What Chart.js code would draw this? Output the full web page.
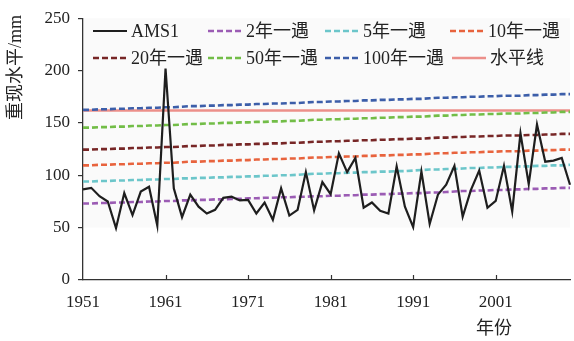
<!DOCTYPE html>
<html>
<head>
<meta charset="utf-8">
<script src="https://cdn.jsdelivr.net/npm/chart.js@4.4.0/dist/chart.umd.min.js"></script>
<style>
  html, body { margin: 0; padding: 0; background: #fff; }
  #wrap { width: 574px; height: 341px; position: relative; }
</style>
</head>
<body>
<div id="wrap"><canvas id="chart"></canvas></div>
<script>
const years = [
  1951, 1952, 1953, 1954, 1955, 1956, 1957, 1958, 1959, 1960,
  1961, 1962, 1963, 1964, 1965, 1966, 1967, 1968, 1969, 1970,
  1971, 1972, 1973, 1974, 1975, 1976, 1977, 1978, 1979, 1980,
  1981, 1982, 1983, 1984, 1985, 1986, 1987, 1988, 1989, 1990,
  1991, 1992, 1993, 1994, 1995, 1996, 1997, 1998, 1999, 2000,
  2001, 2002, 2003, 2004, 2005, 2006, 2007, 2008, 2009, 2010
];

const ams1 = [
  86.5, 88, 80, 75, 49.5, 83, 62, 84.5, 89, 52,
  202, 87.5, 60, 81.5, 70, 63.5, 67, 78.5, 79.5, 76,
  76.5, 63.5, 74, 57.5, 87.5, 61.5, 67, 103, 66.5, 93.5,
  82, 121, 103, 116.5, 69, 74, 66, 63.5, 108.5, 70,
  50.5, 103.5, 53.5, 81.5, 91, 109, 60.5, 86, 104.5, 69,
  75.5, 109, 65.5, 140, 91.5, 148.5, 113, 114, 116.5, 91
];

const rp2 = [
  73, 73, 73.5, 73.5, 74, 74, 74.5, 74.5, 75, 75,
  75.5, 75.5, 76, 76, 76.5, 76.5, 77, 77, 77.5, 77.5,
  78, 78, 78.5, 78.5, 79, 79, 79.5, 79.5, 80, 80,
  80.5, 80.5, 81, 81, 81.5, 81.5, 82, 82, 82.5, 82.5,
  83, 83, 83.5, 83.5, 84, 84.5, 85, 85, 85.5, 85.5,
  86, 86, 86.5, 86.5, 87, 87, 87.5, 87.5, 88, 88
];

const rp5 = [
  94, 94, 94.5, 94.5, 95, 95, 95.5, 95.5, 96, 96,
  96.5, 96.5, 97, 97, 97.5, 97.5, 98, 98, 98.5, 98.5,
  99, 99, 99.5, 99.5, 100, 100, 100.5, 101, 101.5, 101.5,
  102, 102, 102.5, 102.5, 103, 103, 103.5, 103.5, 104, 104,
  104.5, 105, 105.5, 105.5, 106, 106, 106.5, 107, 107, 107.5,
  107.5, 108, 108, 108.5, 108.5, 109, 109, 109.5, 109.5, 110
];

const rp10 = [
  109.5, 109.5, 110, 110, 110.5, 110.5, 111, 111, 111.5, 111.5,
  112, 112, 112.5, 113, 113, 113.5, 113.5, 114, 114, 114.5,
  114.5, 115, 115, 115.5, 115.5, 116, 116, 116.5, 117, 117,
  117.5, 117.5, 118, 118, 118.5, 118.5, 119, 119, 119.5, 119.5,
  120, 120, 120.5, 121, 121, 121.5, 121.5, 122, 122, 122.5,
  122.5, 123, 123, 123, 123.5, 123.5, 124, 124, 124.5, 124.5
];

const rp20 = [
  124.5, 124.5, 125, 125, 125.5, 125.5, 126, 126, 126.5, 126.5,
  127, 127, 127.5, 128, 128, 128.5, 128.5, 129, 129, 129.5,
  129.5, 130, 130, 130.5, 130.5, 131, 131, 131.5, 132, 132,
  132.5, 132.5, 133, 133, 133.5, 133.5, 134, 134, 134.5, 134.5,
  135, 135, 135.5, 136, 136, 136.5, 136.5, 137, 137, 137.5,
  137.5, 138, 138, 138, 138.5, 138.5, 139, 139, 139.5, 139.5
];

const rp50 = [
  145.5, 145.5, 146, 146, 146.5, 146.5, 147, 147, 147.5, 147.5,
  148, 148, 148.5, 149, 149, 149.5, 149.5, 150, 150, 150.5,
  150.5, 151, 151, 151.5, 151.5, 152, 152, 152.5, 153, 153,
  153.5, 153.5, 154, 154, 154.5, 154.5, 155, 155, 155.5, 155.5,
  156, 156, 156.5, 157, 157, 157.5, 157.5, 158, 158, 158.5,
  158.5, 159, 159, 159, 159.5, 159.5, 160, 160, 160.5, 160.5
];

const rp100 = [
  162.5, 162.5, 163, 163, 163.5, 163.5, 164, 164, 164.5, 164.5,
  165, 165, 165.5, 166, 166, 166.5, 166.5, 167, 167, 167.5,
  167.5, 168, 168, 168.5, 168.5, 169, 169, 169.5, 170, 170,
  170.5, 170.5, 171, 171, 171.5, 171.5, 172, 172, 172.5, 172.5,
  173, 173, 173.5, 174, 174, 174.5, 174.5, 175, 175, 175.5,
  175.5, 176, 176, 176, 176.5, 176.5, 177, 177, 177.5, 177.5
];

const levelValue = 161.8;
const levelLine = years.map(() => levelValue);

const yTicks = [0, 50, 100, 150, 200, 250];
const yTitle = "重现水平/mm";
const xTitle = "年份";

const FONT = "'Liberation Serif', 'Noto Sans CJK SC', serif";
const DASH = [6, 3];

function dashed(label, data, color) {
  return {
    label: label,
    data: data,
    borderColor: color,
    backgroundColor: color,
    borderWidth: 2.6,
    borderDash: DASH,
    pointRadius: 0,
    tension: 0,
  };
}

const datasets = [
  {
    label: "AMS1",
    data: ams1,
    borderColor: "#1e1e1e",
    backgroundColor: "#1e1e1e",
    borderWidth: 2.2,
    pointRadius: 0,
    tension: 0,
  },
  dashed("2年一遇", rp2, "#9b5cb4"),
  dashed("5年一遇", rp5, "#6cc6ca"),
  dashed("10年一遇", rp10, "#e8633d"),
  dashed("20年一遇", rp20, "#772626"),
  dashed("50年一遇", rp50, "#72bd47"),
  dashed("100年一遇", rp100, "#3c5ea9"),
  {
    label: "水平线",
    data: levelLine,
    borderColor: "#ec8f8a",
    backgroundColor: "#ec8f8a",
    borderWidth: 2.5,
    pointRadius: 0,
    tension: 0,
  },
];

// legend grid as in the figure: two rows of four
const legendSlots = [
  [93, 31], [208, 31], [325, 31], [450, 31],
  [93, 58], [208, 58], [325, 58], [452, 58],
];

const decor = {
  id: "decor",
  beforeDraw(chart) {
    const { ctx, chartArea, scales } = chart;
    const top = scales.y.getPixelForValue(250);
    const bottom = scales.y.getPixelForValue(50);
    ctx.save();
    ctx.fillStyle = "#fafafa";
    ctx.fillRect(chartArea.left + 1, top, chartArea.right - chartArea.left - 1, bottom - top);
    ctx.restore();
  },
  afterDraw(chart) {
    const { ctx, chartArea, scales } = chart;
    ctx.save();

    // inward ticks on the year axis
    ctx.strokeStyle = "#333";
    ctx.lineWidth = 1.2;
    years.forEach((yr, i) => {
      if (i % 10 !== 0 || i === 0) return;
      const x = Math.round(scales.x.getPixelForValue(i)) + 0.5;
      ctx.beginPath();
      ctx.moveTo(x, chartArea.bottom);
      ctx.lineTo(x, chartArea.bottom - 5);
      ctx.stroke();
    });

    // axis titles
    ctx.fillStyle = "#222";
    ctx.font = "18px " + FONT;
    ctx.textBaseline = "middle";
    ctx.save();
    ctx.translate(16, 15);
    ctx.rotate(-Math.PI / 2);
    ctx.textAlign = "right";
    ctx.fillText(yTitle, 0, 0);
    ctx.restore();
    ctx.textAlign = "center";
    ctx.fillText(xTitle, 494, 329);

    // legend
    ctx.textAlign = "left";
    chart.data.datasets.forEach((ds, i) => {
      const [x, y] = legendSlots[i];
      ctx.strokeStyle = ds.borderColor;
      ctx.lineWidth = ds.borderWidth;
      ctx.setLineDash(ds.borderDash || []);
      ctx.beginPath();
      ctx.moveTo(x, y);
      ctx.lineTo(x + 34, y);
      ctx.stroke();
      ctx.setLineDash([]);
      ctx.fillStyle = "#222";
      ctx.fillText(ds.label, x + 38, y + 1);
    });
    ctx.restore();
  },
};

new Chart(document.getElementById("chart"), {
  type: "line",
  data: { labels: years, datasets: datasets },
  plugins: [decor],
  options: {
    responsive: true,
    maintainAspectRatio: false,
    animation: false,
    layout: { padding: { left: 0, right: 3, top: 17, bottom: 0 } },
    plugins: {
      legend: { display: false },
      tooltip: { enabled: false },
    },
    scales: {
      x: {
        type: "category",
        offset: false,
        afterFit: (scale) => { scale.height = 61; },
        grid: { display: false },
        border: { display: true, color: "#333", width: 1.3 },
        ticks: {
          autoSkip: false,
          maxRotation: 0,
          padding: 4,
          color: "#222",
          font: { family: FONT, size: 17 },
          callback: (v, i) => (i % 10 === 0 ? String(years[i]) : ""),
        },
      },
      y: {
        min: 0,
        max: 250,
        afterFit: (scale) => { scale.width = 83; },
        afterBuildTicks: (scale) => { scale.ticks = yTicks.map((v) => ({ value: v })); },
        grid: { drawOnChartArea: false, tickLength: 5, color: "#333", lineWidth: 1.2 },
        border: { display: true, color: "#333", width: 1.3 },
        ticks: {
          padding: 8,
          color: "#222",
          font: { family: FONT, size: 17 },
        },
      },
    },
  },
});
</script>
</body>
</html>
